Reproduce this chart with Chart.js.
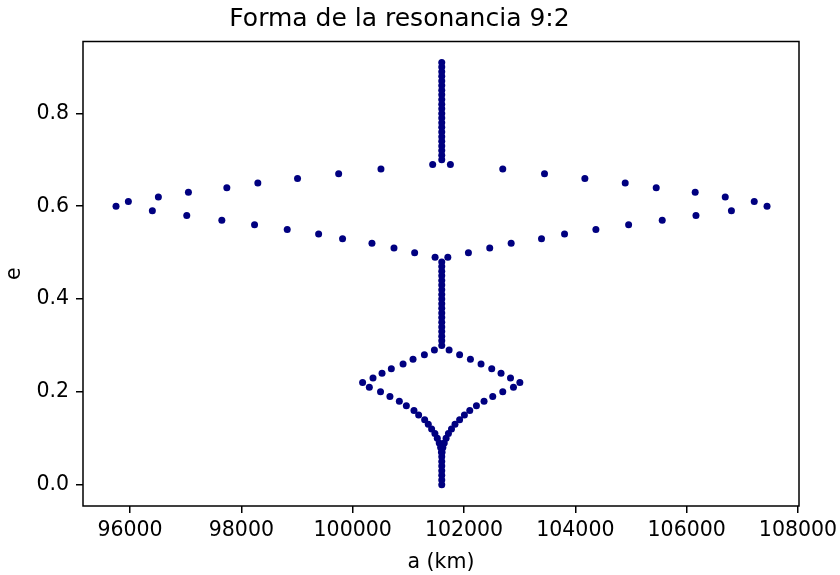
<!DOCTYPE html>
<html>
<head>
<meta charset="utf-8">
<title>Forma de la resonancia 9:2</title>
<script src="https://cdn.jsdelivr.net/npm/chart.js@4.4.1/dist/chart.umd.min.js"></script>
<style>
  html, body { margin: 0; padding: 0; background: #fff; }
  canvas { display: block; }
</style>
</head>
<body>
<canvas id="chart" width="840" height="575"></canvas>
<script>
// eccentricity levels (one row per level), with left / right edge of the resonance in km
const eVals = [
  0.00, 0.01, 0.02, 0.03, 0.04, 0.05, 0.06, 0.07, 0.08, 0.09,
  0.10, 0.11, 0.12, 0.13, 0.14, 0.15, 0.16, 0.17, 0.18, 0.19,
  0.20, 0.21, 0.22, 0.23, 0.24, 0.25, 0.26, 0.27, 0.28, 0.29,
  0.30, 0.31, 0.32, 0.33, 0.34, 0.35, 0.36, 0.37, 0.38, 0.39,
  0.40, 0.41, 0.42, 0.43, 0.44, 0.45, 0.46, 0.47, 0.48, 0.49,
  0.50, 0.51, 0.52, 0.53, 0.54, 0.55, 0.56, 0.57, 0.58, 0.59,
  0.60, 0.61, 0.62, 0.63, 0.64, 0.65, 0.66, 0.67, 0.68, 0.69,
  0.70, 0.71, 0.72, 0.73, 0.74, 0.75, 0.76, 0.77, 0.78, 0.79,
  0.80, 0.81, 0.82, 0.83, 0.84, 0.85, 0.86, 0.87, 0.88, 0.89,
  0.90, 0.91
];

const aLeft = [
  101600, 101600, 101600, 101600, 101600, 101600, 101600, 101595, 101580, 101555,
  101520, 101477, 101418, 101358, 101293, 101185, 101101, 100964, 100838, 100669,
  100500, 100299, 100178, 100365, 100527, 100694, 100905, 101084, 101288, 101468,
  101600, 101600, 101600, 101600, 101600, 101600, 101600, 101600, 101600, 101600,
  101600, 101600, 101600, 101600, 101600, 101600, 101600, 101600, 101600, 101480,
  101113, 100742, 100346, 99818, 99388, 98824, 98237, 97649, 97019, 96401,
  95748, 95970, 96509, 97049, 97739, 98296, 99009, 99748, 100508, 101437,
  101600, 101600, 101600, 101600, 101600, 101600, 101600, 101600, 101600, 101600,
  101600, 101600, 101600, 101600, 101600, 101600, 101600, 101600, 101600, 101600,
  101600, 101600
];

const aRight = [
  101600, 101600, 101600, 101600, 101600, 101600, 101600, 101605, 101620, 101645,
  101678, 101720, 101775, 101838, 101921, 102007, 102103, 102223, 102360, 102516,
  102696, 102888, 103003, 102835, 102665, 102498, 102306, 102115, 101921, 101732,
  101600, 101600, 101600, 101600, 101600, 101600, 101600, 101600, 101600, 101600,
  101600, 101600, 101600, 101600, 101600, 101600, 101600, 101600, 101600, 101709,
  102079, 102462, 102847, 103392, 103806, 104369, 104957, 105561, 106167, 106804,
  107444, 107214, 106693, 106153, 105453, 104896, 104171, 103446, 102696, 101755,
  101600, 101600, 101600, 101600, 101600, 101600, 101600, 101600, 101600, 101600,
  101600, 101600, 101600, 101600, 101600, 101600, 101600, 101600, 101600, 101600,
  101600, 101600
];

const xTicks = [96000, 98000, 100000, 102000, 104000, 106000, 108000];
const yTicks = [0.0, 0.2, 0.4, 0.6, 0.8];

const FONT = 'DejaVu Sans';

function buildPoints() {
  const pts = [];
  eVals.forEach((e, i) => {
    pts.push({ x: aLeft[i], y: e });
    if (aRight[i] !== aLeft[i]) pts.push({ x: aRight[i], y: e });
  });
  return pts;
}

// matplotlib-like box around the axes
const frame = {
  id: 'frame',
  afterDraw(chart) {
    const { ctx, chartArea: a } = chart;
    ctx.save();
    ctx.strokeStyle = '#000';
    ctx.lineWidth = 1.5;
    ctx.strokeRect(a.left, a.top, a.right - a.left, a.bottom - a.top);
    ctx.restore();
  }
};

const tickFont = { family: FONT, size: 20.5 };

new Chart(document.getElementById('chart'), {
  type: 'scatter',
  data: {
    datasets: [{
      data: buildPoints(),
      backgroundColor: 'navy',
      borderWidth: 0,
      pointRadius: 3.5,
    }]
  },
  options: {
    responsive: false,
    animation: false,
    events: [],
    layout: { padding: { left: 0, right: 41, top: 0, bottom: 0 } },
    plugins: {
      legend: { display: false },
      tooltip: { enabled: false },
      title: {
        display: true,
        text: 'Forma de la resonancia 9:2',
        color: '#000',
        font: { family: FONT, size: 25, weight: 'normal' },
        padding: { top: 4, bottom: 7.5 }
      }
    },
    scales: {
      x: {
        type: 'linear',
        min: 95155,
        max: 108018,
        afterBuildTicks: s => { s.ticks = xTicks.map(v => ({ value: v })); },
        afterFit: s => { s.height = 69; s.paddingLeft = 0; s.paddingRight = 0; },
        ticks: {
          color: '#000',
          font: tickFont,
          padding: 5,
          maxRotation: 0,
          callback: v => String(v)
        },
        grid: { drawOnChartArea: false, drawTicks: true, tickLength: 7, color: '#000', lineWidth: 1.5 },
        border: { display: false },
        title: { display: true, text: 'a (km)', color: '#000', font: tickFont, padding: { top: 0, bottom: 0 } }
      },
      y: {
        type: 'linear',
        min: -0.046,
        max: 0.955,
        afterBuildTicks: s => { s.ticks = yTicks.map(v => ({ value: v })); },
        afterFit: s => { s.width = 83; s.paddingTop = 0; s.paddingBottom = 0; },
        ticks: {
          color: '#000',
          font: tickFont,
          padding: 7,
          callback: v => v.toFixed(1)
        },
        grid: { drawOnChartArea: false, drawTicks: true, tickLength: 7, color: '#000', lineWidth: 1.5 },
        border: { display: false },
        title: { display: true, text: 'e', color: '#000', font: tickFont, padding: { top: 2, bottom: 0 } }
      }
    }
  },
  plugins: [frame]
});
</script>
</body>
</html>
